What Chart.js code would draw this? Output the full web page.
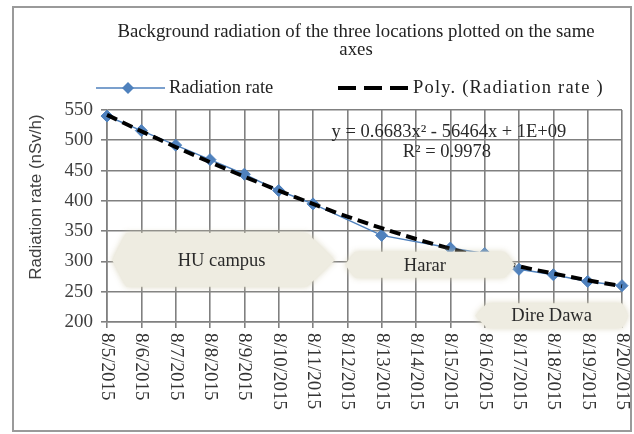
<!DOCTYPE html>
<html><head><meta charset="utf-8">
<script src="https://cdn.jsdelivr.net/npm/chart.js@4.4.1/dist/chart.umd.min.js"></script>
<style>html,body{margin:0;padding:0;background:#fff;}#wrap{width:634px;height:434px;position:relative;}</style>
</head><body><div id="wrap"><canvas id="c" width="634" height="434"></canvas></div>
<script>
const categories = ['8/5/2015','8/6/2015','8/7/2015','8/8/2015','8/9/2015','8/10/2015','8/11/2015','8/12/2015','8/13/2015','8/14/2015','8/15/2015','8/16/2015','8/17/2015','8/18/2015','8/19/2015','8/20/2015'];
const radiationRate = [540,516,492,468,444,417,395,null,343,null,322,313,287,278,267,260];
const polyTrend = [542,515,489,464,440,417,395,374,355,337,321,306,292,280,269,259];
const yTicks = [200,250,300,350,400,450,500,550];
const titleLines = ['Background radiation of the three locations plotted on the same','axes'];
const seriesNames = ['Radiation rate','Poly. (Radiation rate )'];
const yAxisTitle = 'Radiation rate (nSv/h)';
const equationLines = ['y = 0.6683x\u00B2 - 56464x + 1E+09','R\u00B2 = 0.9978'];
const regionLabels = ['HU campus','Harar','Dire Dawa'];

const BLUE = '#4f81bd';
const GRID = '#808080';
const SERIF = '"Liberation Serif", "DejaVu Serif", serif';
const SANS = '"Liberation Sans", Arial, sans-serif';

// callouts anchored in axis units: [category from, category to, value top, value bottom, left inset, right inset]
const regionBoxes = [[0.15,6.64,347,258,14,28],[6.93,11.88,316,273,10,10],[10.72,15.18,231,190,12,6]];

const decor = {
  id:'decor',
  beforeDraw(chart){
    const ctx = chart.ctx;
    ctx.save();
    ctx.fillStyle='#fff';
    ctx.fillRect(0,0,chart.width,chart.height);
    ctx.restore();
  },
  afterDatasetsDraw(chart){
    const ctx = chart.ctx, xs = chart.scales.x, ys = chart.scales.y;
    regionBoxes.forEach((b,i)=>{
      const x0 = xs.getPixelForValue(b[0]), x1 = xs.getPixelForValue(b[1]);
      const y0 = ys.getPixelForValue(b[2]), y1 = ys.getPixelForValue(b[3]);
      const ym = (y0+y1)/2;
      ctx.save();
      ctx.shadowColor='rgba(215,210,185,0.9)';
      ctx.shadowBlur=6;
      ctx.fillStyle='#eeece1';
      ctx.beginPath();
      ctx.moveTo(x0,ym);
      ctx.lineTo(x0+b[4],y0);
      ctx.lineTo(x1-b[5],y0);
      ctx.lineTo(x1,ym);
      ctx.lineTo(x1-b[5],y1);
      ctx.lineTo(x0+b[4],y1);
      ctx.closePath();
      ctx.fill();
      ctx.shadowBlur=0;
      ctx.fillStyle='#2a2a2a';
      ctx.font='18.5px '+SERIF;
      ctx.textAlign='center';ctx.textBaseline='middle';
      ctx.fillText(regionLabels[i],(x0+x1)/2 - (i===0?2:(i===1?5:0)),ym+1);
      ctx.restore();
    });
    ctx.save();
    ctx.fillStyle='#2a2a2a';
    ctx.font='18.5px '+SERIF;
    ctx.textAlign='center';ctx.textBaseline='middle';
    ctx.fillText(equationLines[0], xs.getPixelForValue(9.96), ys.getPixelForValue(514));
    ctx.fillText(equationLines[1], xs.getPixelForValue(9.9), ys.getPixelForValue(481));
    ctx.restore();
  },
  afterDraw(chart){
    const ctx = chart.ctx, xs = chart.scales.x, ca = chart.chartArea;
    ctx.save();
    ctx.fillStyle='#333';
    ctx.font='19px '+SERIF;
    ctx.textAlign='left';ctx.textBaseline='middle';
    categories.forEach((c,i)=>{
      const x = xs.getPixelForTick(i);
      ctx.save();
      ctx.translate(x, ca.bottom+11);
      ctx.rotate(Math.PI/2);
      ctx.fillText(c,0,0);
      ctx.restore();
    });
    ctx.save();
    ctx.translate(36,197);
    ctx.rotate(-Math.PI/2);
    ctx.font='17px '+SANS;
    ctx.fillStyle='#404040';
    ctx.textAlign='center';ctx.textBaseline='middle';
    ctx.fillText(yAxisTitle,0,0);
    ctx.restore();
    ctx.fillStyle='#222';
    ctx.font='18.8px '+SERIF;
    ctx.textAlign='center';ctx.textBaseline='middle';
    ctx.fillText(titleLines[0],356,32);
    ctx.fillText(titleLines[1],356,50);
    const ly = 88;
    ctx.strokeStyle=BLUE;ctx.lineWidth=1.5;
    ctx.beginPath();ctx.moveTo(96,ly);ctx.lineTo(165,ly);ctx.stroke();
    ctx.fillStyle=BLUE;
    ctx.beginPath();ctx.moveTo(128-6,ly);ctx.lineTo(128,ly-6);ctx.lineTo(134,ly);ctx.lineTo(128,ly+6);ctx.closePath();ctx.fill();
    ctx.fillStyle='#222';
    ctx.font='18.5px '+SERIF;
    ctx.textAlign='left';
    ctx.fillText(seriesNames[0],169,ly);
    ctx.strokeStyle='#000';ctx.lineWidth=4;ctx.setLineDash([18,8]);
    ctx.beginPath();ctx.moveTo(338,ly);ctx.lineTo(408,ly);ctx.stroke();
    ctx.setLineDash([]);
    ctx.letterSpacing='1.2px';
    ctx.fillText(seriesNames[1],413,ly);
    ctx.letterSpacing='0px';
    ctx.strokeStyle='#9a9a9a';ctx.lineWidth=2;
    ctx.strokeRect(13,7,618,424);
    ctx.restore();
  }
};

new Chart(document.getElementById('c'), {
  type:'line',
  data:{labels:categories, datasets:[
    {label:seriesNames[1], data:polyTrend, borderColor:'#000', borderWidth:4, borderDash:[11,6], pointRadius:0, cubicInterpolationMode:'monotone', order:0, fill:false},
    {label:seriesNames[0], data:radiationRate, borderColor:BLUE, borderWidth:1.5, pointStyle:'rectRot', pointRadius:6, pointBackgroundColor:BLUE, pointBorderColor:BLUE, pointBorderWidth:1, spanGaps:true, order:1, fill:false}
  ]},
  options:{
    responsive:false, animation:false, devicePixelRatio:1,
    layout:{padding:{top:110,right:12,left:0,bottom:0}},
    plugins:{legend:{display:false},title:{display:false},tooltip:{enabled:false}},
    scales:{
      x:{grid:{color:GRID,lineWidth:1.6,tickLength:6},border:{color:GRID,width:1.6},ticks:{display:false},afterFit(s){s.height=112;}},
      y:{min:yTicks[0],max:yTicks[yTicks.length-1],
         afterBuildTicks(s){s.ticks=yTicks.map(v=>({value:v}));},
         ticks:{color:'#404040',font:{family:SERIF,size:19},padding:8},
         grid:{color:GRID,lineWidth:1.6,tickLength:6},border:{color:GRID,width:1.6},
         afterFit(s){s.width=107;}}
    }
  },
  plugins:[decor]
});
</script></body></html>
